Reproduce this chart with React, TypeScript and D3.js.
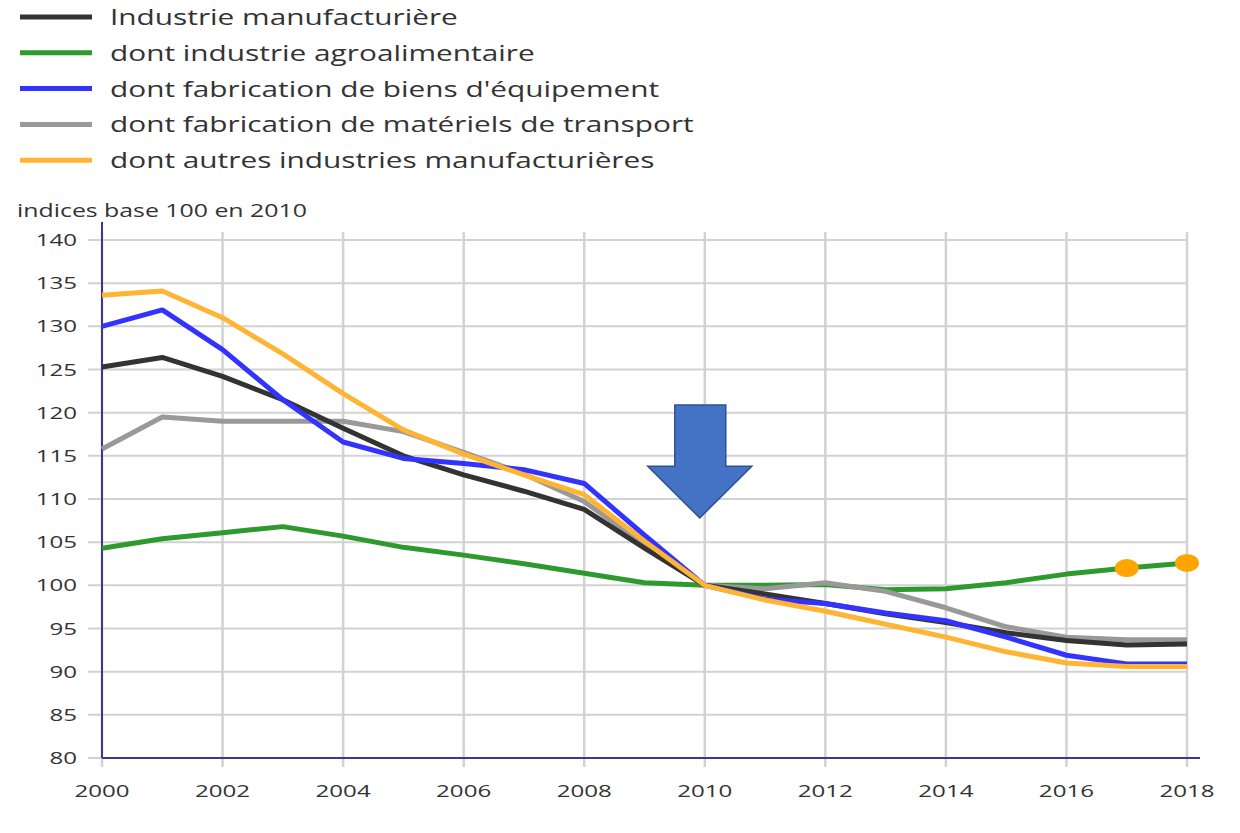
import React from "react";
import * as d3 from "d3";

const years = [2000,2001,2002,2003,2004,2005,2006,2007,2008,2009,2010,2011,2012,2013,2014,2015,2016,2017,2018];
const manufacturiere = [125.3,126.4,124.2,121.5,118.2,115.0,112.8,110.9,108.8,104.3,100,99.0,97.9,96.7,95.7,94.5,93.6,93.1,93.2];
const agroalimentaire = [104.3,105.4,106.1,106.8,105.7,104.4,103.5,102.5,101.4,100.3,100,100.0,100.1,99.5,99.6,100.3,101.3,102.0,102.6];
const biensEquipement = [130.0,131.9,127.3,121.5,116.6,114.7,114.1,113.4,111.8,105.8,100,98.4,97.9,96.8,95.9,94.0,91.9,90.9,90.9];
const materielsTransport = [115.8,119.5,119.0,119.0,119.0,117.8,115.4,112.9,109.7,104.7,100,99.6,100.3,99.3,97.4,95.2,94.0,93.7,93.7];
const autresIndustries = [133.6,134.1,131.0,126.8,122.2,118.0,115.2,112.8,110.5,105.1,100,98.3,97.0,95.5,94.0,92.3,91.0,90.6,90.6];
const highlightYears = [2017, 2018];

const seriesNames = [
  "Industrie manufacturière",
  "dont industrie agroalimentaire",
  "dont fabrication de biens d'équipement",
  "dont fabrication de matériels de transport",
  "dont autres industries manufacturières",
];
const seriesColors = ["#333333", "#2e9a2e", "#3333ff", "#999999", "#ffb433"];
const seriesValues = [manufacturiere, agroalimentaire, biensEquipement, materielsTransport, autresIndustries];
const yTicks = [80,85,90,95,100,105,110,115,120,125,130,135,140];
const xTicks = [2000,2002,2004,2006,2008,2010,2012,2014,2016,2018];
const yTitle = "indices base 100 en 2010";

const SX = 1.42;
const FONT = "'Open Sans', sans-serif";

function SText({ x, y, anchor = "start", size = 17, fill = "#333", children }: any) {
  return (
    <text
      transform={`translate(${x},${y}) scale(${SX},1)`}
      textAnchor={anchor}
      fontFamily={FONT}
      fontSize={size}
      fill={fill}
    >
      {children}
    </text>
  );
}

export default function App() {
  const x = d3.scaleLinear().domain([2000, 2018]).range([102, 1187]);
  const y = d3.scaleLinear().domain([80, 140]).range([758, 240]);
  const line = d3
    .line<number>()
    .x((_, i) => x(years[i]))
    .y((d) => y(d))
    .curve(d3.curveLinear);

  // arrow annotation geometry (relative to scales)
  const cx = x(2010) - 5;
  const tipY = y(107.8);
  const headY = y(113.8);
  const topY = y(120.9);
  const arrowPts = [
    [cx - 25, topY],
    [cx + 26, topY],
    [cx + 26, headY],
    [cx + 52, headY],
    [cx, tipY],
    [cx - 52, headY],
    [cx - 25, headY],
  ];

  return (
    <svg width={1240} height={833} style={{ position: "absolute", left: 0, top: 0, background: "#fff" }}>
      {/* Legend */}
      {seriesNames.map((name, i) => {
        const ly = 17 + i * 35.8;
        return (
          <g key={name}>
            <line x1={20} x2={92} y1={ly} y2={ly} stroke={seriesColors[i]} strokeWidth={5} />
            <SText x={110} y={ly + 8} size={21}>{name}</SText>
          </g>
        );
      })}

      {/* y title */}
      <SText x={17} y={217} size={17.5}>{yTitle}</SText>

      {/* horizontal grid */}
      {yTicks.map((t) => (
        <line key={"h" + t} x1={88} x2={1187} y1={y(t)} y2={y(t)} stroke="#d2d2d2" strokeWidth={2} />
      ))}
      {/* vertical grid */}
      {xTicks.map((t) => (
        <line key={"v" + t} x1={x(t)} x2={x(t)} y1={232} y2={767} stroke="#d2d2d2" strokeWidth={2.5} />
      ))}

      {/* axes */}
      <line x1={102} x2={102} y1={222} y2={758} stroke="#3a3a8c" strokeWidth={2} />
      <line x1={102} x2={1200} y1={758} y2={758} stroke="#3a3a8c" strokeWidth={2} />

      {/* y labels */}
      {yTicks.map((t) => (
        <SText key={"yl" + t} x={77} y={y(t) + 6} anchor="end" size={17}>{t}</SText>
      ))}
      {/* x labels */}
      {xTicks.map((t) => (
        <SText key={"xl" + t} x={x(t)} y={797} anchor="middle" size={17}>{t}</SText>
      ))}

      {/* series lines */}
      {[1, 3, 0, 2, 4].map((i) => (
        <path
          key={"s" + i}
          d={line(seriesValues[i]) || ""}
          fill="none"
          stroke={seriesColors[i]}
          strokeWidth={5}
          strokeLinejoin="round"
        />
      ))}

      {/* highlighted points */}
      {highlightYears.map((yr) => {
        const idx = years.indexOf(yr);
        return (
          <ellipse key={"p" + yr} cx={x(yr)} cy={y(agroalimentaire[idx])} rx={12} ry={9} fill="#ffa500" />
        );
      })}

      {/* arrow annotation */}
      <polygon
        points={arrowPts.map((p) => p.join(",")).join(" ")}
        fill="#4472c4"
        stroke="#2f528f"
        strokeWidth={1.5}
      />
    </svg>
  );
}
